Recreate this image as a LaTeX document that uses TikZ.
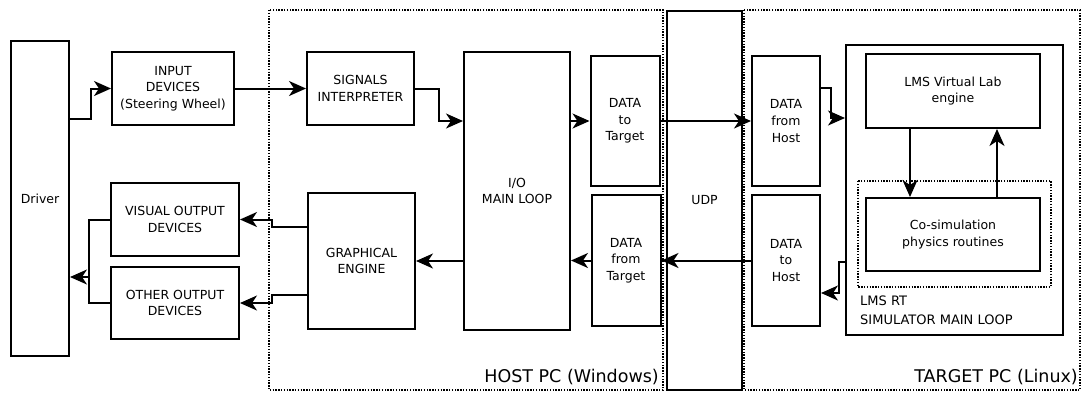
\documentclass[tikz,border=0pt]{standalone}
\usepackage{fontspec}
\setmainfont{DejaVu Sans}
\usetikzlibrary{arrows.meta}
\begin{document}
\begin{tikzpicture}[x=1pt,y=-1pt,
 box/.style={draw,line width=2pt,inner sep=0pt,align=center,font=\fontsize{12.5}{16.7}\selectfont},
 arr/.style={line width=2pt,-{Stealth[length=17pt,width=15pt,inset=5pt]}},
 ln/.style={line width=2pt},
 dots/.style={draw,line width=1.5pt,dash pattern=on 1.4pt off 1.4pt}]
\useasboundingbox (0,0) rectangle (1085,392);
% dotted groups
\draw[dots] (269,10) rectangle (663,390);
\draw[dots] (744,10) rectangle (1080,390);
\node[anchor=east,inner sep=0pt,font=\fontsize{17.5}{20}\selectfont] (hostlbl) at (659,377) {HOST PC (Windows)};
\node[anchor=east,inner sep=0pt,font=\fontsize{17.5}{20}\selectfont] (targetlbl) at (1078,377) {TARGET PC (Linux)};
% nodes
\node[box,minimum width=58pt,minimum height=315pt] (driver) at (40,198.5) {Driver};
\node[box,minimum width=122pt,minimum height=73pt] (input) at (173,88.5) {INPUT\\DEVICES\\(Steering Wheel)};
\node[box,minimum width=128pt,minimum height=73pt] (visual) at (175,219.5) {VISUAL OUTPUT\\DEVICES};
\node[box,minimum width=128pt,minimum height=72pt] (other) at (175,303) {OTHER OUTPUT\\DEVICES};
\node[box,minimum width=107pt,minimum height=73pt] (signals) at (360.5,88.5) {SIGNALS\\INTERPRETER};
\node[box,minimum width=107pt,minimum height=136pt] (graph) at (361.5,261) {GRAPHICAL\\ENGINE};
\node[box,minimum width=106pt,minimum height=278pt] (io) at (517,191) {I/O\\MAIN LOOP};
\node[box,minimum width=69pt,minimum height=130pt] (dtt) at (625,121) {DATA\\to\\Target};
\node[box,minimum width=69pt,minimum height=131pt] (dft) at (626,260.5) {DATA\\from\\Target};
\node[box,minimum width=75pt,minimum height=379pt] (udp) at (704.5,200.5) {UDP};
\node[box,minimum width=68pt,minimum height=130pt] (dfh) at (786,121) {DATA\\from\\Host};
\node[box,minimum width=68pt,minimum height=131pt] (dth) at (786,260.5) {DATA\\to\\Host};
\node[box,minimum width=217pt,minimum height=290pt] (rt) at (954.5,190) {};
\draw[dots] (858,181) rectangle (1051,287);
\node[box,minimum width=174pt,minimum height=74pt] (vl) at (953,91) {LMS Virtual Lab\\engine};
\node[box,minimum width=174pt,minimum height=73pt] (cosim) at (953,234.5) {Co-simulation\\physics routines};
\node[anchor=north west,inner sep=0pt,align=left,font=\fontsize{13}{19}\selectfont] (rtlbl) at (860,296) {LMS RT\\SIMULATOR MAIN LOOP};
% connectors
\draw[arr] (driver.east|-0,119) -- ++(21,0) |- (input.west);
\draw[arr] (input.east) -- (signals.west);
\draw[arr] (signals.east) -- ++(24,0) |- (io.west|-0,121);
\draw[arr] (io.east|-dtt) -- (dtt.west);
\draw[arr] (dtt.east) -- (dfh.west);
\draw[arr] (dfh.east|-0,88) -- ++(10,0) |- (rt.west|-0,118);
\draw[arr] (vl.south-|910,0) -- (cosim.north-|910,0);
\draw[arr] (cosim.north-|997,0) -- (vl.south-|997,0);
\draw[arr] (rt.west|-0,262) -- ++(-6,0) |- (dth.east|-0,293);
\draw[arr] (dth.west) -- (dft.east);
\draw[arr] (dft.west) -- (io.east|-dft);
\draw[arr] (io.west|-graph) -- (graph.east);
\draw[arr] (graph.west|-0,227) -- ++(-35,0) |- (visual.east);
\draw[arr] (graph.west|-0,295) -- ++(-35,0) |- (other.east);
\coordinate (j) at (89,277);
\draw[ln] (visual.west) -| (j) |- (other.west);
\draw[arr] (j) -- (driver.east|-j);
\end{tikzpicture}
\end{document}
